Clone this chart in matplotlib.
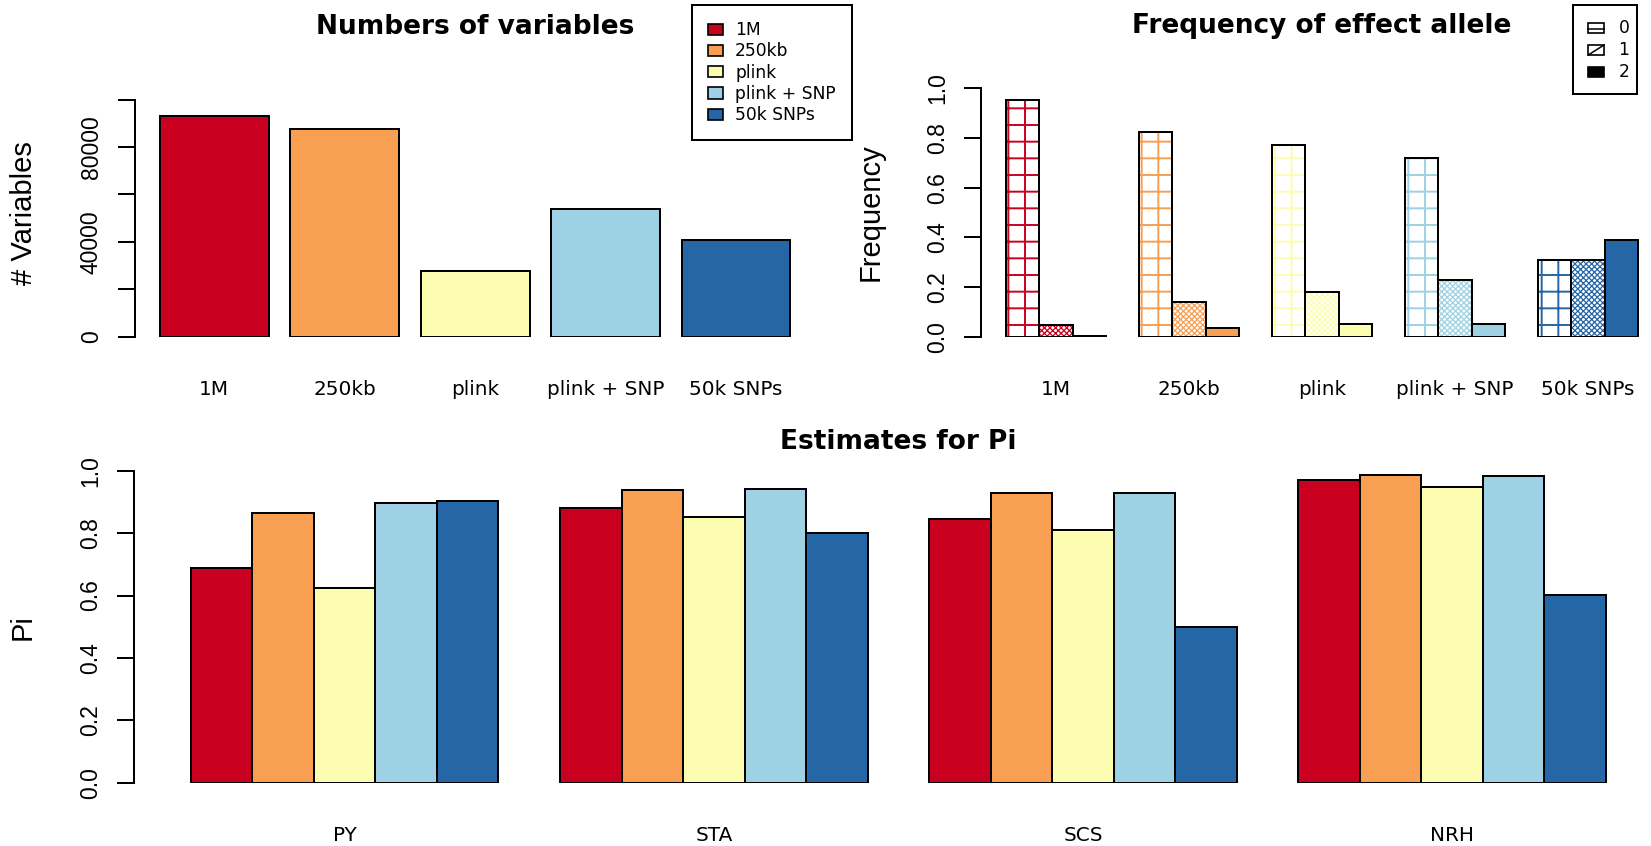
import numpy as np
import matplotlib
matplotlib.use("Agg")
import matplotlib.pyplot as plt
from matplotlib.patches import Patch, Rectangle
from matplotlib.lines import Line2D

# data
methods = ["1M", "250kb", "plink", "plink + SNP", "50k SNPs"]
colors = ["#CA0020", "#F99F52", "#FDFDB1", "#9ED1E3", "#2566A7"]
n_vars = [93000, 87600, 27700, 53700, 40800]

allele_counts = ["0", "1", "2"]
freq_0 = [0.954, 0.826, 0.770, 0.720, 0.308]
freq_1 = [0.046, 0.139, 0.179, 0.227, 0.308]
freq_2 = [0.004, 0.035, 0.051, 0.053, 0.388]

datasets = ["PY", "STA", "SCS", "NRH"]
pi_1m = [0.689, 0.881, 0.845, 0.970]
pi_250kb = [0.863, 0.938, 0.928, 0.985]
pi_plink = [0.623, 0.851, 0.809, 0.947]
pi_plink_snp = [0.897, 0.940, 0.928, 0.982]
pi_50k = [0.903, 0.801, 0.500, 0.601]

W, H, DPI = 1651, 846, 100
LW = 1.44
rfont = ["Liberation Sans", "DejaVu Sans"]
plt.rcParams["font.family"] = ["DejaVu Sans"]

fig = plt.figure(figsize=(W / DPI, H / DPI), dpi=DPI)


def add_ax(left, right, top, bottom):
    return fig.add_axes([left / W, 1 - bottom / H, (right - left) / W, (bottom - top) / H])


def r_style(ax, xlim, ylim, yticks, ylabels, xticks, xlabels):
    ax.set_xlim(xlim)
    ax.set_ylim(ylim)
    for s in ["top", "right", "bottom"]:
        ax.spines[s].set_visible(False)
    ax.spines["left"].set_linewidth(LW)
    ax.patch.set_visible(False)
    ax.set_yticks(yticks, ylabels, rotation=90, va="center", fontsize=16.5, family=rfont)
    ax.tick_params(axis="y", length=12, width=LW, pad=11)
    ax.set_xticks(xticks, xlabels, fontsize=14.4)
    ax.tick_params(axis="x", length=0, pad=42)
    for lab in ax.get_xticklabels():
        lab.set_va("baseline")


# ---- top left: numbers of variables
ax1 = add_ax(134.8, 815.7, 99.7, 336.7)
x1 = 0.7 + 1.2 * np.arange(len(methods))
ax1.bar(x1, n_vars, width=1, color=colors, edgecolor="black", linewidth=LW)
r_style(ax1, (-0.032, 6.232), (0, 100000),
        np.arange(0, 100001, 20000), ["0", "", "40000", "", "80000", ""],
        x1, methods)
ax1.set_title("Numbers of variables", fontsize=19, fontweight="bold",
              y=(336.7 - 34) / 237, pad=0)
ax1.set_ylabel("# Variables", fontsize=21, family=rfont, va="center")
ax1.yaxis.set_label_coords(-0.162, 0.522)

leg = fig.legend(handles=[Patch(facecolor=c, edgecolor="black", linewidth=1.2) for c in colors],
                 labels=methods, loc="upper left", bbox_to_anchor=(692 / W, 1 - 5 / H),
                 bbox_transform=fig.transFigure, fontsize=12.3, handlelength=0.85,
                 handleheight=0.63, handletextpad=0.72, labelspacing=0.19,
                 borderpad=0.95, borderaxespad=0, fancybox=False, framealpha=1,
                 edgecolor="black")
leg.get_frame().set_linewidth(LW)

# ---- top right: frequency of effect allele
ax2 = add_ax(981, 1663, 88.3, 336.7)
starts = 1 + 4 * np.arange(len(methods))
for k, (vals, hatch, hlw) in enumerate([(freq_0, "+", 1.4), (freq_1, "xxxxxx", 0.9)]):
    with plt.rc_context({"hatch.linewidth": hlw}):
        ax2.bar(starts + k + 0.5, vals, width=1, color="white", edgecolor=colors,
                hatch=hatch, linewidth=LW)
    ax2.bar(starts + k + 0.5, vals, width=1, fill=False, edgecolor="black", linewidth=LW)
ax2.bar(starts + 2.5, freq_2, width=1, color=colors, edgecolor="black", linewidth=LW)
r_style(ax2, (0.24, 20.76), (0, 1),
        np.arange(0, 1.01, 0.2), ["0.0", "0.2", "0.4", "0.6", "0.8", "1.0"],
        starts + 1.5, methods)
ax2.set_title("Frequency of effect allele", fontsize=19, fontweight="bold",
              y=(336.7 - 33.3) / 248.4, pad=0)
ax2.set_ylabel("Frequency", fontsize=21, family=rfont, va="center")
ax2.yaxis.set_label_coords(-0.162, 0.5)


# legend for allele counts, drawn by hand
def fig_rect(x0, y0, x1, y1, **kw):
    fig.add_artist(Rectangle((x0 / W, 1 - y1 / H), (x1 - x0) / W, (y1 - y0) / H,
                             transform=fig.transFigure, **kw))


def fig_line(xs, ys, **kw):
    fig.add_artist(Line2D([x / W for x in xs], [1 - y / H for y in ys],
                          transform=fig.transFigure, **kw))


fig_rect(1572.9, 4.7, 1637.4, 94.3, fill=False, edgecolor="black", linewidth=LW)
for i, (lab, yc) in enumerate(zip(allele_counts, [28.3, 50.0, 71.7])):
    sx0, sx1, sy0, sy1 = 1588.3, 1604.0, yc - 5, yc + 5
    fig_rect(sx0, sy0, sx1, sy1, facecolor="black" if i == 2 else "white",
             edgecolor="black", linewidth=1.2)
    if i == 0:
        fig_line([sx0, sx1], [yc + 1, yc + 1], color="black", linewidth=1.1)
    elif i == 1:
        fig_line([sx0, sx1], [sy1, sy0], color="black", linewidth=1.1)
    fig.text(1618.6 / W, 1 - yc / H, lab, fontsize=12.3, va="center", ha="left")

# ---- bottom: estimates for Pi
ax3 = add_ax(134.2, 1662.6, 470.7, 782.7)
pi_vals = [pi_1m, pi_250kb, pi_plink, pi_plink_snp, pi_50k]
gstarts = 1 + 6 * np.arange(len(datasets))
for m, vals in enumerate(pi_vals):
    ax3.bar(gstarts + m + 0.5, vals, width=1, color=colors[m], edgecolor="black", linewidth=LW)
r_style(ax3, (0.08, 24.92), (0, 1),
        np.arange(0, 1.01, 0.2), ["0.0", "0.2", "0.4", "0.6", "0.8", "1.0"],
        gstarts + 2.5, datasets)
ax3.set_title("Estimates for Pi", fontsize=19, fontweight="bold",
              y=(782.7 - 449.3) / 312, pad=0)
ax3.set_ylabel("Pi", fontsize=21, family=rfont, va="center")
ax3.yaxis.set_label_coords(-0.0728, 0.5)

fig.savefig("out.png", dpi=DPI)
